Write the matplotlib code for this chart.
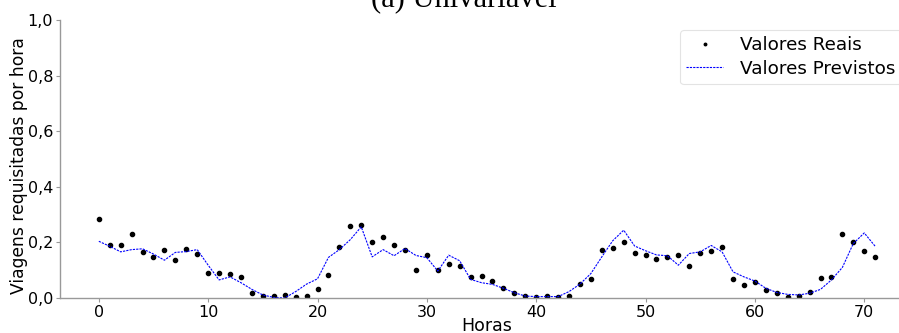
import matplotlib
matplotlib.use("Agg")
import matplotlib.pyplot as plt
import numpy as np

horas = list(range(72))
valores_reais = [
    0.284, 0.189, 0.189, 0.232, 0.166, 0.147, 0.174, 0.136, 0.178, 0.158,
    0.091, 0.091, 0.087, 0.074, 0.017, 0.008, 0.008, 0.012, 0.004, 0.007,
    0.031, 0.082, 0.184, 0.259, 0.264, 0.202, 0.219, 0.190, 0.171, 0.100,
    0.153, 0.100, 0.122, 0.115, 0.074, 0.078, 0.060, 0.037, 0.017, 0.007,
    0.004, 0.007, 0.004, 0.008, 0.052, 0.069, 0.171, 0.179, 0.202, 0.162,
    0.153, 0.140, 0.147, 0.153, 0.115, 0.162, 0.170, 0.184, 0.069, 0.047,
    0.056, 0.029, 0.017, 0.004, 0.006, 0.022, 0.072, 0.074, 0.232, 0.201,
    0.170, 0.149,
]
valores_previstos = [
    0.204, 0.186, 0.166, 0.174, 0.177, 0.158, 0.136, 0.164, 0.167, 0.174,
    0.118, 0.065, 0.076, 0.055, 0.031, 0.011, 0.002, 0.000, 0.023, 0.050,
    0.069, 0.146, 0.174, 0.210, 0.256, 0.148, 0.174, 0.152, 0.178, 0.153,
    0.145, 0.097, 0.154, 0.134, 0.067, 0.055, 0.049, 0.035, 0.019, 0.007,
    0.005, 0.005, 0.005, 0.023, 0.050, 0.088, 0.148, 0.206, 0.244, 0.187,
    0.170, 0.155, 0.152, 0.118, 0.160, 0.166, 0.189, 0.166, 0.094, 0.076,
    0.061, 0.035, 0.020, 0.013, 0.011, 0.017, 0.031, 0.065, 0.110, 0.196,
    0.234, 0.186,
]

W, H = 899, 333
fig = plt.figure(figsize=(W / 100, H / 100), dpi=100)
# axes spans beyond the right edge (cropped original)
left_px, right_px, top_px, bottom_px = 60, 914, 20, 298
ax = fig.add_axes([left_px / W, 1 - bottom_px / H,
                   (right_px - left_px) / W, (bottom_px - top_px) / H])

ax.plot(horas, valores_reais, linestyle='none', marker='o', markersize=3,
        color='black', label='Valores Reais')
ax.plot(horas, valores_previstos, linestyle='--', dashes=(2, 1), linewidth=0.8,
        color='blue', label='Valores Previstos')

ax.set_xlim(-3.55, 74.55)
ax.set_ylim(0, 1.0)
ax.set_xticks([0, 10, 20, 30, 40, 50, 60, 70])
ax.set_yticks([0.0, 0.2, 0.4, 0.6, 0.8, 1.0])
ax.set_yticklabels(['0,0', '0,2', '0,4', '0,6', '0,8', '1,0'])
ax.tick_params(labelsize=11.5, color='#999999', length=3, width=0.8, pad=2)
for s in ['top', 'right']:
    ax.spines[s].set_visible(False)
for s in ['left', 'bottom']:
    ax.spines[s].set_color('#999999')
    ax.spines[s].set_linewidth(1.0)

ax.set_xlabel('Horas', fontsize=12.5, labelpad=-2)
ax.set_ylabel('Viagens requisitadas por hora', fontsize=12.3)
ax.yaxis.set_label_coords(-0.0375, 0.475)

leg = fig.legend(loc='upper left', bbox_to_anchor=(680 / W, 1 - 30 / H),
                 fontsize=13.2, frameon=True, fancybox=True,
                 edgecolor='#dddddd', borderaxespad=0, handlelength=2.0,
                 markerscale=0.6, labelspacing=0.3, borderpad=0.35,
                 handletextpad=0.9)
leg.get_frame().set_linewidth(0.8)

fig.text(464 / W, 1 - 7 / H, '(a) Univariável', ha='center', va='baseline',
         fontsize=22, family='Liberation Serif')

fig.savefig('out.png', dpi=100)
